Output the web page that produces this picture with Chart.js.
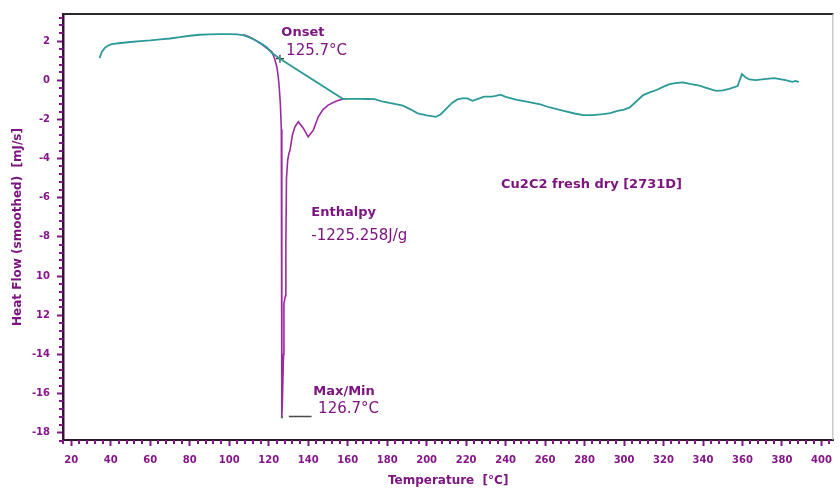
<!DOCTYPE html>
<html>
<head>
<meta charset="utf-8">
<script src="https://cdn.jsdelivr.net/npm/chart.js@4.4.1/dist/chart.umd.min.js"></script>
<style>
html,body{margin:0;padding:0;background:#fff;}
#wrap{width:840px;height:491px;position:relative;}
</style>
</head>
<body>
<div id="wrap"><canvas id="c" width="840" height="491"></canvas></div>
<script>
// ---- data ----
const baselineT = [34.3,35.5,37,38.5,40.5,45,50,55,60,65,70,75,80,85,90,95,100,104,107,110,113,116,119,121.5,125.7,157.7,160,165,170,173.6,178,183,188,192,195.5,200,204.7,207,210,213,215.6,218,220.6,223.2,226,229.1,233,235,237.4,240,245.8,250,257.6,262,269.4,275,279.4,284,289.5,293,296.2,300,302.9,306,309.7,313,316.4,320,323.1,326,329.8,334,338.2,342,346.6,350,353.3,357.5,359.7,361.5,363.4,366.7,371,375.9,379,381.8,385.2,387,388.5];
const baselineHF = [1.13,1.45,1.65,1.76,1.84,1.9,1.95,2.0,2.03,2.08,2.13,2.2,2.27,2.32,2.34,2.35,2.35,2.34,2.3,2.2,2.05,1.88,1.68,1.4,1.1,-0.96,-0.95,-0.95,-0.96,-0.97,-1.1,-1.2,-1.3,-1.5,-1.69,-1.8,-1.87,-1.75,-1.45,-1.15,-0.98,-0.93,-0.93,-1.05,-0.95,-0.84,-0.84,-0.8,-0.74,-0.85,-1.0,-1.08,-1.23,-1.38,-1.56,-1.7,-1.78,-1.78,-1.73,-1.68,-1.58,-1.5,-1.39,-1.1,-0.76,-0.62,-0.5,-0.33,-0.2,-0.15,-0.11,-0.2,-0.28,-0.4,-0.54,-0.52,-0.44,-0.3,0.31,0.15,0.04,0.0,0.05,0.11,0.06,0.0,-0.08,-0.04,-0.1];
const peakT = [107,110,113,116,119,121.6,123,124.1,124.8,125.3,125.9,126.4,126.6,126.7,126.9,127.5,127.7,128.5,128.7,129.0,129.6,130.2,130.8,132,133.3,135,137.5,140,142.6,145.1,147.5,150.1,154,157.7];
const peakHF = [2.32,2.22,2.06,1.87,1.64,1.45,1.1,0.69,0.2,-0.33,-1.2,-2.5,-6,-17.2,-16.5,-14,-11.4,-11.0,-8.2,-5.0,-4.1,-3.75,-3.57,-2.8,-2.38,-2.12,-2.45,-2.89,-2.55,-1.87,-1.5,-1.27,-1.08,-0.96];
const onsetPoint = [125.7, 1.1];
const minPoint = [126.7, -17.2];
const minLeaderT = [130.2, 141.7];
const minLeaderHF = [-17.17, -17.17];
const xTickValues = [20,40,60,80,100,120,140,160,180,200,220,240,260,280,300,320,340,360,380,400];
const yTickValues = [2,0,-2,-4,-6,-8,-10,-12,-14,-16,-18];
const yTickLabels = ['2','0','-2','-4','-6','-8','10','12','-14','-16','-18'];
const annotTexts = ['Onset',' 125.7°C','Enthalpy','-1225.258J/g','Cu2C2 fresh dry [2731D]','Max/Min',' 126.7°C'];
const annotT = [126.4,126.4,141.6,141.6,237.7,142.6,142.6];
const annotHF = [2.41,1.5,-6.78,-7.98,-5.35,-15.88,-16.8];
const annotBold = [true,false,true,false,true,true,false];

const X_MIN = 15.8, X_MAX = 406, Y_MIN = -18.37, Y_MAX = 3.38;
const PURPLE = '#86158a';
const TEXT_PURPLE = '#7c1580';
const TEAL = '#2c9a98';

const toPts = (xs, ys) => xs.map((x,i)=>({x, y: ys[i]}));

const minorTicks = {
  id:'minorTicks',
  afterDraw(chart){
    const ctx = chart.ctx, xs = chart.scales.x, ys = chart.scales.y;
    const ca = chart.chartArea;
    ctx.save();
    ctx.strokeStyle = PURPLE; ctx.lineWidth = 2;
    for (let v = 16; v <= 404; v += 4) {
      if (v % 20 === 0) continue;
      const px = Math.round(xs.getPixelForValue(v));
      ctx.beginPath(); ctx.moveTo(px, ca.bottom); ctx.lineTo(px, ca.bottom + 4); ctx.stroke();
    }
    for (let k = -46; k <= 8; k++) {
      if (k % 5 === 0) continue;
      const py = Math.round(ys.getPixelForValue(k * 0.4));
      ctx.beginPath(); ctx.moveTo(ca.left, py); ctx.lineTo(ca.left - 4, py); ctx.stroke();
    }
    ctx.strokeStyle = '#2a2a2a'; ctx.lineWidth = 2;
    ctx.beginPath(); ctx.moveTo(ca.left, ca.top); ctx.lineTo(ca.right, ca.top); ctx.stroke();
    ctx.strokeStyle = '#b0b0b0'; ctx.lineWidth = 1;
    ctx.beginPath(); ctx.moveTo(ca.right - 0.5, ca.top); ctx.lineTo(ca.right - 0.5, ca.bottom); ctx.stroke();
    ctx.restore();
  }
};

const annotations = {
  id:'annotations',
  afterDatasetsDraw(chart){
    const ctx = chart.ctx, xs = chart.scales.x, ys = chart.scales.y;
    ctx.save();
    ctx.fillStyle = TEXT_PURPLE;
    ctx.textBaseline = 'middle';
    ctx.textAlign = 'left';
    annotTexts.forEach((t,i)=>{
      ctx.font = annotBold[i] ? 'bold 13px "DejaVu Sans"' : '15px "DejaVu Sans"';
      ctx.fillText(t, xs.getPixelForValue(annotT[i]), ys.getPixelForValue(annotHF[i]));
    });
    ctx.restore();
  }
};

new Chart(document.getElementById('c'), {
  type: 'scatter',
  data: {
    datasets: [
      { data: toPts(baselineT, baselineHF), showLine: true, borderColor: TEAL, borderWidth: 1.8, pointRadius: 0, tension: 0 },
      { data: toPts(peakT, peakHF), showLine: true, borderColor: '#9a2aa0', borderWidth: 1.6, pointRadius: 0, tension: 0 },
      { data: toPts(minLeaderT, minLeaderHF), showLine: true, borderColor: '#4a4a4a', borderWidth: 1.5, pointRadius: 0 },
      { data: [{x: onsetPoint[0], y: onsetPoint[1]}], pointStyle: 'cross', pointRadius: 4, borderColor: '#333', borderWidth: 1.2 },
      { data: [{x: minPoint[0], y: minPoint[1]}], pointStyle: 'rect', pointRadius: 1.5, borderColor: '#3a8a3a', backgroundColor: '#3a8a3a', borderWidth: 0 }
    ]
  },
  options: {
    responsive: false,
    animation: false,
    layout: { padding: { top: 14, right: 2, left: 0, bottom: 0 } },
    plugins: { legend: { display: false }, tooltip: { enabled: false } },
    scales: {
      x: {
        type: 'linear', min: X_MIN, max: X_MAX, position: 'bottom',
        afterFit(s){ s.height = 51; },
        afterBuildTicks(s){ s.ticks = xTickValues.map(v=>({value: v})); },
        border: { display: true, color: '#2a1a2a', width: 2 },
        grid: { drawOnChartArea: false, drawTicks: true, tickLength: 6, tickWidth: 2, tickColor: PURPLE, color: PURPLE },
        ticks: { color: PURPLE, font: { family: 'DejaVu Sans', weight: 'bold', size: 10 }, padding: 8, maxRotation: 0, autoSkip: false },
        title: { display: true, text: 'Temperature  [°C]', color: TEXT_PURPLE, font: { family: 'DejaVu Sans', weight: 'bold', size: 12 }, padding: { top: 0, bottom: 3 } }
      },
      y: {
        type: 'linear', min: Y_MIN, max: Y_MAX, position: 'left',
        afterFit(s){ s.width = 63; },
        afterBuildTicks(s){ s.ticks = yTickValues.map(v=>({value: v})); },
        border: { display: true, color: '#3a103a', width: 2.5 },
        grid: { drawOnChartArea: false, drawTicks: true, tickLength: 6, tickWidth: 2, tickColor: PURPLE, color: PURPLE },
        ticks: { color: PURPLE, font: { family: 'DejaVu Sans', weight: 'bold', size: 10 }, padding: 7, autoSkip: false,
          callback: (v) => { const i = yTickValues.indexOf(v); return i >= 0 ? yTickLabels[i] : ''; } },
        title: { display: true, text: 'Heat Flow (smoothed)  [mJ/s]', color: TEXT_PURPLE, font: { family: 'DejaVu Sans', weight: 'bold', size: 12 }, padding: { top: 11, bottom: 0 } }
      }
    }
  },
  plugins: [minorTicks, annotations]
});
</script>
</body>
</html>
